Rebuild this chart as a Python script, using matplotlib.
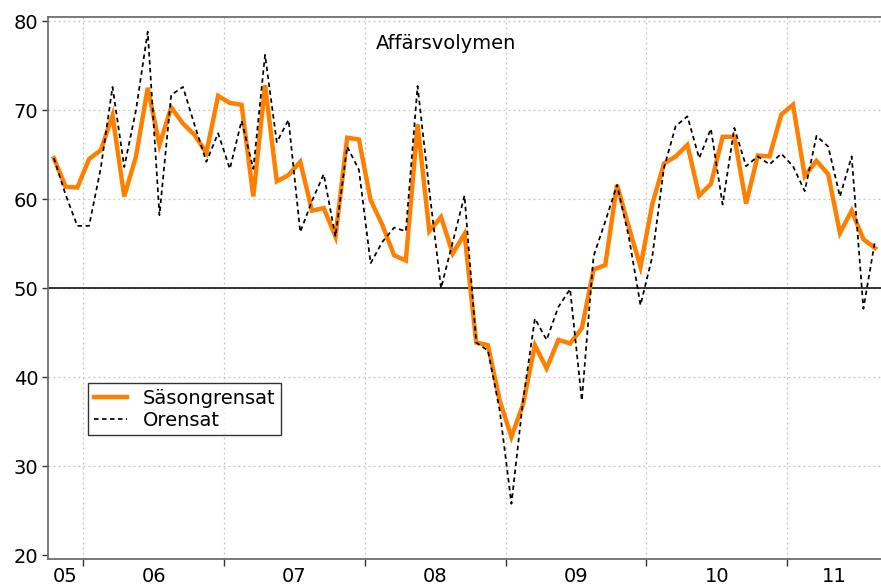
import matplotlib
matplotlib.use("Agg")
import matplotlib.pyplot as plt
import numpy as np

plt.rcParams['font.family'] = ['DejaVu Sans']

# Monthly values, Oct 2005 - Aug 2011
start_year = 2005
start_month = 10

sasongrensat = [
    64.6, 61.4, 61.3,                                                   # 2005
    64.5, 65.5, 69.4, 60.3, 64.8, 72.5, 66.1, 70.3, 68.5, 67.2, 65.2, 71.6,  # 2006
    70.8, 70.6, 60.3, 72.8, 62.0, 62.7, 64.2, 58.7, 59.0, 55.8, 66.9, 66.7,  # 2007
    59.9, 57.1, 53.7, 53.1, 68.4, 56.4, 58.0, 53.9, 56.1, 43.9, 43.6, 37.4,  # 2008
    33.3, 37.0, 43.6, 41.0, 44.2, 43.8, 45.5, 52.1, 52.6, 61.6, 56.9, 52.4,  # 2009
    59.4, 64.0, 64.8, 66.1, 60.4, 61.7, 67.0, 67.0, 59.5, 64.9, 64.8, 69.5,  # 2010
    70.6, 62.6, 64.3, 62.8, 56.2, 58.7, 55.5, 54.5,                          # 2011
]

orensat = [
    64.6, 60.5, 57.0,
    57.0, 63.5, 72.6, 63.6, 70.0, 78.8, 58.2, 71.7, 72.6, 68.3, 64.2, 67.4,
    63.4, 68.8, 63.4, 76.2, 66.4, 68.9, 56.3, 59.8, 62.8, 55.8, 65.9, 63.3,
    52.8, 55.2, 56.8, 56.4, 72.7, 61.0, 50.0, 55.2, 60.4, 43.9, 43.0, 36.3,
    25.8, 37.5, 46.6, 44.2, 47.9, 49.9, 37.4, 53.6, 57.5, 61.6, 55.8, 48.1,
    53.5, 63.5, 68.2, 69.3, 64.6, 67.9, 59.4, 68.0, 63.7, 64.8, 63.9, 65.1,
    63.7, 60.9, 67.1, 65.9, 60.3, 64.8, 47.7, 55.4,
]

year_labels = ['05', '06', '07', '08', '09', '10', '11']

n = len(sasongrensat)
x = np.arange(n) + 0.5  # points at mid-month

# year boundaries and label positions (in months from Oct 2005)
first = 12 - start_month + 1
bounds = [0] + list(range(first, n, 12)) + [n]
boundaries = bounds[1:-1]
label_pos = [(a + b) / 2 for a, b in zip(bounds[:-1], bounds[1:])]

fig = plt.figure(figsize=(8.81, 5.87), dpi=100)
ax = fig.add_axes([48 / 881, 1 - 559 / 587, 833 / 881, 542 / 587])

ax.set_xlim(0, n)
ax.set_ylim(19.6, 80.45)

grid_kw = dict(color='#c4c4c4', linestyle=(0, (1.5, 2.5)), linewidth=0.9, zorder=0)
for b in boundaries:
    ax.axvline(b, **grid_kw)
for yv in range(30, 81, 10):
    ax.axhline(yv, **grid_kw)

ax.axhline(50, color='black', linewidth=1.1, zorder=1)

ax.plot(x, sasongrensat, color='#ff8000', linewidth=3.2, label='Säsongrensat',
        solid_joinstyle='miter', zorder=3)
ax.plot(x, orensat, color='black', linewidth=1.25, linestyle=(0, (2.6, 2.0)),
        label='Orensat', zorder=4)

ax.set_yticks(range(20, 81, 10))
ax.set_xticks(boundaries)
ax.set_xticklabels([])
ax.set_xticks(label_pos, minor=True)
ax.set_xticklabels(year_labels, minor=True)
ax.tick_params(axis='x', which='major', length=5, width=1, color='#333333', direction='out')
ax.tick_params(axis='x', which='minor', length=0, pad=6, labelsize=14)
ax.tick_params(axis='y', length=4, width=1, color='#333333', labelsize=14, pad=3)

for side in ['left', 'top', 'bottom']:
    ax.spines[side].set_color('#6e6e6e')
    ax.spines[side].set_linewidth(1.3)
ax.spines['right'].set_visible(False)

ax.text(0.478, 0.952, 'Affärsvolymen', transform=ax.transAxes, fontsize=14,
        ha='center', va='center')

leg = ax.legend(loc='upper left', bbox_to_anchor=(0.048, 0.325), borderaxespad=0,
                fancybox=False, edgecolor='black', fontsize=14, handlelength=1.7,
                labelspacing=0.15, borderpad=0.3, handletextpad=0.8)
leg.get_frame().set_linewidth(1.0)

fig.savefig('out.png', dpi=100)
